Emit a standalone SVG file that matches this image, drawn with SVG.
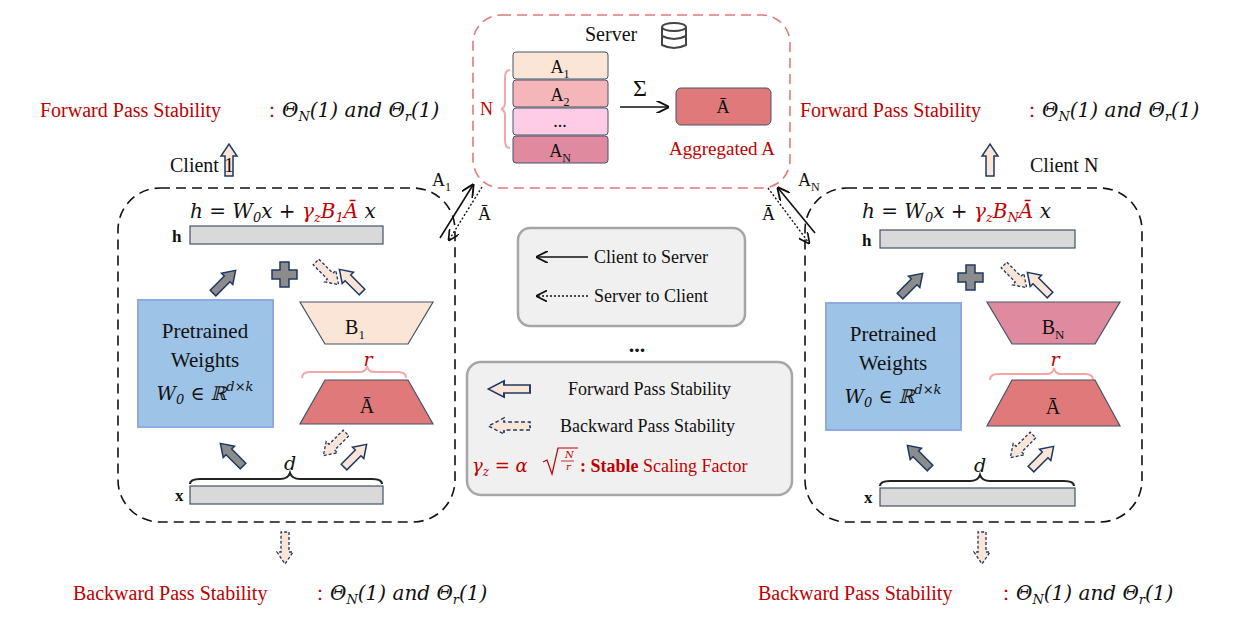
<svg xmlns="http://www.w3.org/2000/svg" width="1259" height="623" viewBox="0 0 1259 623">
<defs>
<style>
text{font-family:"Liberation Serif","DejaVu Serif",serif;fill:#111}
.red{fill:#c00000}
.m{font-family:"DejaVu Serif","Liberation Serif",serif;font-style:italic}
.cl{fill:none;stroke:#111;stroke-width:1.6;stroke-dasharray:10 6}
.bar{fill:#d9d9d9;stroke:#44546a;stroke-width:1.2}
.ga{fill:#8c8c8c;stroke:#1f3864;stroke-width:1.5}
.fa{fill:#fbe5d6;stroke:#1f3864;stroke-width:1.5}
.ba{fill:#fbe5d6;stroke:#1f3864;stroke-width:1.3;stroke-dasharray:3 2}
.lg{fill:#f0f0f0;stroke:#a6a6a6;stroke-width:2.5}
</style>
<path id="ar" d="M0,-4 H20 V-8 L32,0 L20,8 V4 H0 Z"/>
<marker id="ah" viewBox="0 0 10 10" refX="9" refY="5" markerWidth="8" markerHeight="8" orient="auto"><path d="M0,0 L10,5 L0,10" fill="none" stroke="#111" stroke-width="1.5"/></marker>
</defs>

<g id="labels-top">
<text x="40" y="117" font-size="20" class="red">Forward Pass Stability</text>
<text x="262" y="117" font-size="20"><tspan class="red">：</tspan><tspan class="m">Θ<tspan font-size="13" dy="4">N</tspan><tspan dy="-4">(1) and Θ</tspan><tspan font-size="13" dy="4">r</tspan><tspan dy="-4">(1)</tspan></tspan></text>
<use href="#ar" class="fa" transform="translate(229,176) rotate(-90)"/>
<text x="800" y="117" font-size="20" class="red">Forward Pass Stability</text>
<text x="1022" y="117" font-size="20"><tspan class="red">：</tspan><tspan class="m">Θ<tspan font-size="13" dy="4">N</tspan><tspan dy="-4">(1) and Θ</tspan><tspan font-size="13" dy="4">r</tspan><tspan dy="-4">(1)</tspan></tspan></text>
<use href="#ar" class="fa" transform="translate(990,176) rotate(-90)"/>
</g>

<g id="client1">
<text x="170" y="172" font-size="20">Client 1</text>
<rect x="118" y="188" width="337" height="334" rx="42" class="cl"/>
<text x="190" y="218" font-size="20" class="m">h = W<tspan font-size="13" dy="4">0</tspan><tspan dy="-4">x + </tspan><tspan class="red">γ<tspan font-size="13" dy="4">z</tspan><tspan dy="-4">B</tspan><tspan font-size="13" dy="4">1</tspan><tspan dy="-4">Ā</tspan></tspan> x</text>
<text x="172" y="242" font-size="17" font-weight="bold">h</text>
<rect x="190" y="226" width="193" height="18" class="bar"/>
<use href="#ar" class="ga" transform="translate(213,293) rotate(-45)"/>
<path d="M280,262 h9 v8 h8 v9 h-8 v8 h-9 v-8 h-8 v-9 h8 Z" class="ga" stroke-width="1"/>
<use href="#ar" class="ba" transform="translate(316,262) rotate(45)"/>
<use href="#ar" class="fa" transform="translate(362,292) rotate(-135)"/>
<rect x="138" y="300" width="135" height="127" fill="#9dc3e6" stroke="#8faadc" stroke-width="2"/>
<text x="205" y="338" font-size="21" text-anchor="middle">Pretrained</text>
<text x="205" y="367" font-size="21" text-anchor="middle">Weights</text>
<text x="205" y="400" font-size="19" text-anchor="middle" class="m">W<tspan font-size="13" dy="4">0</tspan><tspan dy="-4"> ∈ ℝ</tspan><tspan font-size="13" dy="-9">d×k</tspan></text>
<path d="M300,302 H433 L408,344 H325 Z" fill="#fbe5d6" stroke="#44546a" stroke-width="1.2"/>
<text x="355" y="334" font-size="20" text-anchor="middle">B<tspan font-size="13" dy="5">1</tspan></text>
<text x="368" y="366" font-size="19" class="red m" text-anchor="middle">r</text>
<path d="M302,378 q0,-6 8,-6 H360 q6,0 7,-6 q1,6 7,6 H398 q8,0 8,6" fill="none" stroke="#f4a6a6" stroke-width="2"/>
<path d="M325,380 H408 L433,424 H300 Z" fill="#e07a7a" stroke="#44546a" stroke-width="1.2"/>
<text x="367" y="413" font-size="20" text-anchor="middle">Ā</text>
<use href="#ar" class="ba" transform="translate(346,433) rotate(135)"/>
<use href="#ar" class="fa" transform="translate(344,467) rotate(-45)"/>
<use href="#ar" class="ga" transform="translate(243,466) rotate(-135)"/>
<text x="290" y="470" font-size="19" class="m" text-anchor="middle">d</text>
<path d="M190,484 q0,-5 10,-5 H280 q8,0 10,-6 q2,6 10,6 H372 q10,0 10,5" fill="none" stroke="#222" stroke-width="2.2"/>
<text x="175" y="501" font-size="17" font-weight="bold">x</text>
<rect x="190" y="486" width="193" height="18" class="bar"/>
</g>

<g id="clientN">
<text x="1030" y="172" font-size="20">Client N</text>
<rect x="805" y="188" width="337" height="334" rx="42" class="cl"/>
<text x="862" y="218" font-size="20" class="m">h = W<tspan font-size="13" dy="4">0</tspan><tspan dy="-4">x + </tspan><tspan class="red">γ<tspan font-size="13" dy="4">z</tspan><tspan dy="-4">B</tspan><tspan font-size="13" dy="4">N</tspan><tspan dy="-4">Ā</tspan></tspan> x</text>
<text x="862" y="246" font-size="17" font-weight="bold">h</text>
<rect x="880" y="230" width="195" height="18" class="bar"/>
<use href="#ar" class="ga" transform="translate(900,296) rotate(-45)"/>
<path d="M966,265 h9 v8 h8 v9 h-8 v8 h-9 v-8 h-8 v-9 h8 Z" class="ga" stroke-width="1"/>
<use href="#ar" class="ba" transform="translate(1004,265) rotate(45)"/>
<use href="#ar" class="fa" transform="translate(1050,295) rotate(-135)"/>
<rect x="826" y="303" width="135" height="127" fill="#9dc3e6" stroke="#8faadc" stroke-width="2"/>
<text x="893" y="341" font-size="21" text-anchor="middle">Pretrained</text>
<text x="893" y="370" font-size="21" text-anchor="middle">Weights</text>
<text x="893" y="403" font-size="19" text-anchor="middle" class="m">W<tspan font-size="13" dy="4">0</tspan><tspan dy="-4"> ∈ ℝ</tspan><tspan font-size="13" dy="-9">d×k</tspan></text>
<path d="M987,302 H1120 L1095,344 H1012 Z" fill="#e08aa0" stroke="#44546a" stroke-width="1.2"/>
<text x="1053" y="334" font-size="20" text-anchor="middle">B<tspan font-size="13" dy="5">N</tspan></text>
<text x="1055" y="366" font-size="19" class="red m" text-anchor="middle">r</text>
<path d="M990,380 q0,-6 8,-6 H1047 q6,0 7,-6 q1,6 7,6 H1085 q8,0 8,6" fill="none" stroke="#f4a6a6" stroke-width="2"/>
<path d="M1012,380 H1095 L1120,426 H987 Z" fill="#e07a7a" stroke="#44546a" stroke-width="1.2"/>
<text x="1053" y="414" font-size="20" text-anchor="middle">Ā</text>
<use href="#ar" class="ba" transform="translate(1033,435) rotate(135)"/>
<use href="#ar" class="fa" transform="translate(1031,469) rotate(-45)"/>
<use href="#ar" class="ga" transform="translate(930,468) rotate(-135)"/>
<text x="980" y="472" font-size="19" class="m" text-anchor="middle">d</text>
<path d="M880,486 q0,-5 10,-5 H970 q8,0 10,-6 q2,6 10,6 H1064 q10,0 10,5" fill="none" stroke="#222" stroke-width="2.2"/>
<text x="864" y="503" font-size="17" font-weight="bold">x</text>
<rect x="880" y="488" width="195" height="18" class="bar"/>
</g>

<g id="labels-bottom">
<use href="#ar" class="ba" transform="translate(285,532) rotate(90)"/>
<text x="73" y="600" font-size="20" class="red">Backward Pass Stability</text>
<text x="310" y="600" font-size="20"><tspan class="red">：</tspan><tspan class="m">Θ<tspan font-size="13" dy="4">N</tspan><tspan dy="-4">(1) and Θ</tspan><tspan font-size="13" dy="4">r</tspan><tspan dy="-4">(1)</tspan></tspan></text>
<use href="#ar" class="ba" transform="translate(982,532) rotate(90)"/>
<text x="758" y="600" font-size="20" class="red">Backward Pass Stability</text>
<text x="996" y="600" font-size="20"><tspan class="red">：</tspan><tspan class="m">Θ<tspan font-size="13" dy="4">N</tspan><tspan dy="-4">(1) and Θ</tspan><tspan font-size="13" dy="4">r</tspan><tspan dy="-4">(1)</tspan></tspan></text>
</g>

<g id="server">
<rect x="473" y="15" width="317" height="173" rx="28" fill="none" stroke="#e07a7a" stroke-width="1.6" stroke-dasharray="10 6"/>
<text x="585" y="41" font-size="20">Server</text>
<g fill="none" stroke="#444" stroke-width="2"><ellipse cx="674" cy="27" rx="12" ry="4"/><path d="M662,27 V45 Q674,51 686,45 V27 M662,36 Q674,42 686,36"/></g>
<rect x="513" y="52" width="95" height="27" rx="3" fill="#fbe5d6" stroke="#44546a"/>
<rect x="513" y="80" width="95" height="27" rx="3" fill="#f4b6b8" stroke="#44546a"/>
<rect x="513" y="108" width="95" height="27" rx="3" fill="#ffcce6" stroke="#44546a"/>
<rect x="513" y="136" width="95" height="27" rx="3" fill="#e08aa0" stroke="#44546a"/>
<text x="560" y="73" font-size="18" text-anchor="middle">A<tspan font-size="12" dy="5">1</tspan></text>
<text x="560" y="101" font-size="18" text-anchor="middle">A<tspan font-size="12" dy="5">2</tspan></text>
<text x="560" y="127" font-size="18" text-anchor="middle">...</text>
<text x="560" y="157" font-size="18" text-anchor="middle">A<tspan font-size="12" dy="5">N</tspan></text>
<path d="M510,70 q-5,0 -5,8 V102 q0,6 -4,7 q4,1 4,7 V140 q0,8 5,8" fill="none" stroke="#f4a6a6" stroke-width="2"/>
<text x="480" y="115" font-size="18" class="red">N</text>
<text x="640" y="96" font-size="24" text-anchor="middle">Σ</text>
<line x1="620" y1="107" x2="668" y2="107" stroke="#111" stroke-width="1.6" marker-end="url(#ah)"/>
<rect x="676" y="88" width="95" height="37" rx="5" fill="#e07a7a" stroke="#44546a"/>
<text x="723" y="113" font-size="18" text-anchor="middle">Ā</text>
<text x="722" y="155" font-size="19" class="red" text-anchor="middle">Aggregated A</text>
</g>

<g id="connectors">
<line x1="440" y1="238" x2="473" y2="185" stroke="#111" stroke-width="1.6" marker-end="url(#ah)"/>
<line x1="482" y1="187" x2="449" y2="240" stroke="#111" stroke-width="1.4" stroke-dasharray="2 2" marker-end="url(#ah)"/>
<text x="432" y="186" font-size="18">A<tspan font-size="12" dy="5">1</tspan></text>
<text x="478" y="220" font-size="18">Ā</text>
<line x1="815" y1="233" x2="778" y2="188" stroke="#111" stroke-width="1.6" marker-end="url(#ah)"/>
<line x1="768" y1="188" x2="809" y2="243" stroke="#111" stroke-width="1.4" stroke-dasharray="2 2" marker-end="url(#ah)"/>
<text x="798" y="186" font-size="18">A<tspan font-size="12" dy="5">N</tspan></text>
<text x="762" y="220" font-size="18">Ā</text>
</g>

<g id="legend1">
<rect x="518" y="228" width="227" height="98" rx="12" class="lg"/>
<line x1="588" y1="257" x2="537" y2="257" stroke="#111" stroke-width="1.5" marker-end="url(#ah)"/>
<text x="594" y="263" font-size="18">Client to Server</text>
<line x1="588" y1="296" x2="537" y2="296" stroke="#111" stroke-width="1.4" stroke-dasharray="2 2" marker-end="url(#ah)"/>
<text x="594" y="302" font-size="18">Server to Client</text>
</g>
<text x="637" y="352" font-size="22" font-weight="bold" text-anchor="middle">...</text>

<g id="legend2">
<rect x="467" y="362" width="325" height="133" rx="14" class="lg"/>
<use href="#ar" class="fa" transform="translate(530,389) rotate(180) scale(1.3,1)"/>
<text x="568" y="395" font-size="18">Forward Pass Stability</text>
<use href="#ar" class="ba" transform="translate(530,426) rotate(180) scale(1.3,1)"/>
<text x="560" y="432" font-size="18">Backward Pass Stability</text>
<text x="472" y="472" font-size="18" class="red"><tspan class="m">γ<tspan font-size="12" dy="4">z</tspan><tspan dy="-4"> = α</tspan></tspan></text>
<path d="M543,462 l4,-2 l5,14 l6,-26 H578" fill="none" stroke="#c00000" stroke-width="1.2"/>
<text x="565" y="458" font-size="10" class="red m">N</text>
<line x1="561" y1="461" x2="574" y2="461" stroke="#c00000" stroke-width="0.8"/>
<text x="566" y="470" font-size="10" class="red m">r</text>
<text x="580" y="472" font-size="18" class="red"><tspan font-weight="bold">: Stable</tspan> Scaling Factor</text>
</g>
</svg>
